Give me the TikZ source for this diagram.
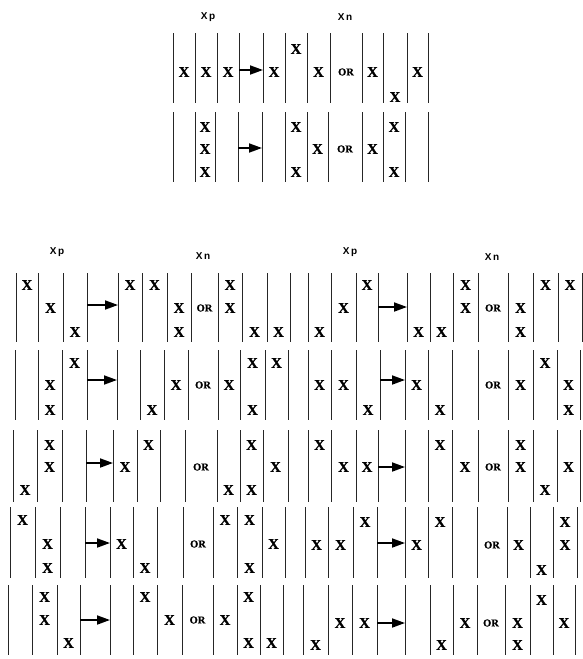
\documentclass[tikz,border=0pt]{standalone}
\usepackage{fontspec}
\setmainfont{Liberation Serif}
\newfontfamily\labfont{Liberation Sans}
\newfontfamily\xfont[FakeBold=0.8]{Liberation Serif Bold}
\usetikzlibrary{arrows.meta,calc}
\tikzset{
  vline/.style={line width=0.9pt, black!85},
  xmark/.style={font=\xfont\fontsize{15}{15}\selectfont, inner sep=0pt},
  ortext/.style={font=\xfont\fontsize{10.5}{10.5}\selectfont, inner sep=0pt},
  lab/.style={font=\labfont\bfseries\fontsize{10}{10}\selectfont, inner sep=0pt},
  movearrow/.style={line width=1.8pt, -{Triangle[length=13pt,width=9pt]}},
}
% #1 name, #2 twelve line x's, #3 top y, #4 bottom y, #5 three level y's, #6 arrow y, #7 X list col/level
\newcommand{\confpanel}[7]{%
  \foreach \lx [count=\li] in {#2} {
    \coordinate (#1-L\li) at (\lx,#3);
    \draw[vline] (\lx,#3) -- (\lx,#4);
  }
  \foreach \ly [count=\yi] in {#5} {\coordinate (#1-Y\yi) at (0,\ly);}
  \coordinate (#1-A) at (0,#6);
  \coordinate (#1-as) at (#1-L4 |- #1-A);
  \coordinate (#1-ae) at (#1-L5 |- #1-A);
  \draw[movearrow] (#1-as) -- (#1-ae);
  \coordinate (#1-orc) at ($(#1-L8)!0.5!(#1-L9)$);
  \node[ortext] (#1-or) at (#1-orc |- #1-Y2) {OR};
  \foreach \cc/\lev [count=\k] in {#7} {
    \pgfmathtruncatemacro{\ai}{\cc+floor((\cc-1)/3)}
    \pgfmathtruncatemacro{\bi}{\ai+1}
    \coordinate (#1-c\k) at ($(#1-L\ai)!0.5!(#1-L\bi)$);
    \node[xmark] (#1-x\k) at (#1-c\k |- #1-Y\lev) {X};
  }
}
\begin{document}
\begin{tikzpicture}[x=1pt,y=-1pt]
\useasboundingbox (0,0) rectangle (583,659);
% labels
\node[lab] (tXp) at (208,17) {X\,p};
\node[lab] (tXn) at (345,17) {X\,n};
\node[lab] (lXp) at (57,252) {X\,p};
\node[lab] (lXn) at (203,256) {X\,n};
\node[lab] (rXp) at (350,252) {X\,p};
\node[lab] (rXn) at (492,257) {X\,n};
% top panels
\confpanel{tA}{173,195,217,239,263,285,307,330,362,383,407,428}{33}{103}{49,72,97}{70}{1/2,2/2,3/2,4/2,5/1,6/2,7/2,8/3,9/2}
\confpanel{tB}{173,195,215,238,262,285,307,328,362,383,405,428}{112}{182}{127,149,172}{148}{2/1,2/2,2/3,5/1,5/3,6/2,7/2,8/1,8/3}
% left group
\confpanel{L1}{16,38,63,87,118,142,167,191,218,242,267,290}{273}{342}{285,308,332}{305}{1/1,2/2,3/3,4/1,5/1,6/2,6/3,7/1,7/2,8/3,9/3}
\confpanel{L2}{15,38,62,87,117,140,164,188,218,240,265,288}{350}{420}{363,385,410}{380}{2/2,2/3,3/1,5/3,6/2,7/2,8/1,8/3,9/1}
\confpanel{L3}{13,37,62,86,113,137,160,185,217,240,263,288}{430}{502}{445,467,490}{463}{1/3,2/1,2/2,4/2,5/1,7/3,8/1,8/3,9/2}
\confpanel{L4}{10,35,60,85,110,133,157,183,213,237,262,285}{507}{578}{520,544,568}{543}{1/1,2/2,2/3,4/2,5/3,7/1,8/1,8/3,9/2}
\confpanel{L5}{8,32,57,80,110,133,157,182,213,237,260,283}{585}{655}{597,620,643}{620}{2/1,2/2,3/3,5/1,6/2,7/2,8/1,8/3,9/3}
% right group
\confpanel{R1}{308,331,356,378,407,430,453,478,508,533,558,582}{273}{342}{285,308,332}{307}{1/3,2/2,3/1,4/3,5/3,6/1,6/2,7/2,7/3,8/1,9/1}
\confpanel{R2}{308,331,356,380,405,428,452,478,508,533,557,580}{350}{420}{363,385,410}{380}{1/2,2/2,3/3,4/2,5/3,7/2,8/1,9/2,9/3}
\confpanel{R3}{308,331,356,378,405,428,452,478,508,533,557,580}{430}{502}{445,467,490}{467}{1/1,2/2,3/2,5/1,6/2,7/1,7/2,8/3,9/2}
\confpanel{R4}{305,328,353,377,405,428,452,477,507,530,553,577}{507}{578}{522,545,570}{543}{1/2,2/2,3/1,4/2,5/1,7/2,8/3,9/1,9/2}
\confpanel{R5}{303,328,352,377,405,430,453,477,505,530,553,575}{585}{655}{600,623,645}{623}{1/3,2/2,3/2,5/3,6/2,7/2,7/3,8/1,9/2}
\end{tikzpicture}
\end{document}
